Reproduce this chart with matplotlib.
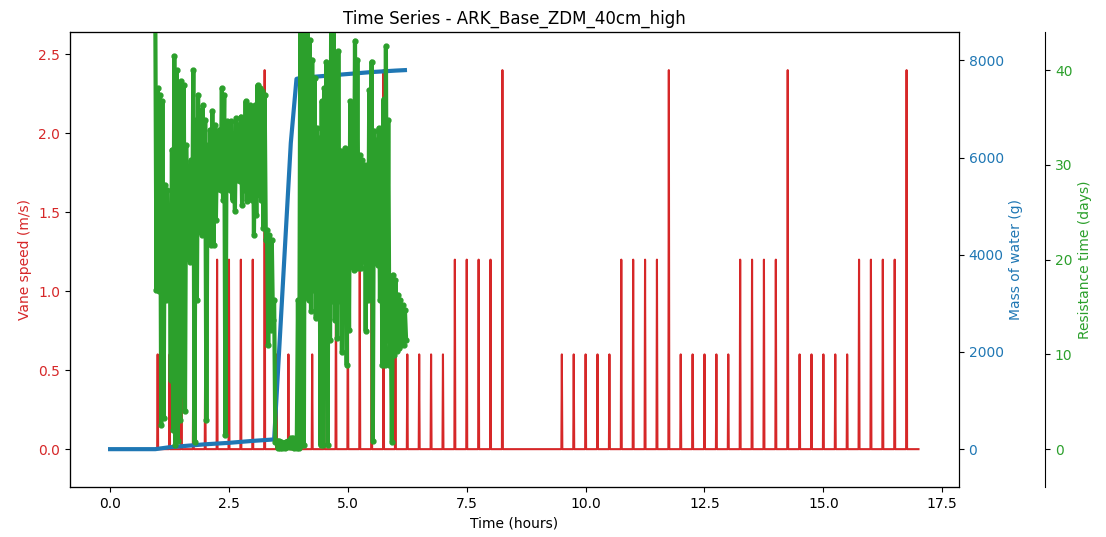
import numpy as np
import matplotlib
matplotlib.use("Agg")
import matplotlib.pyplot as plt

# vane speed spikes (hours, m/s)
spike_times = [1.0, 1.25, 1.5, 1.75, 2.0, 2.25, 2.5, 2.75, 3.0, 3.25,
               3.5, 3.75, 4.0, 4.25, 4.5, 4.75, 5.0, 5.25, 5.5, 5.75,
               6.0, 6.25, 6.5, 6.75, 7.0, 7.25, 7.5, 7.75, 8.0, 8.25,
               9.5, 9.75, 10.0, 10.25, 10.5, 10.75, 11.0, 11.25, 11.5, 11.75,
               12.0, 12.25, 12.5, 12.75, 13.0, 13.25, 13.5, 13.75, 14.0, 14.25,
               14.5, 14.75, 15.0, 15.25, 15.5, 15.75, 16.0, 16.25, 16.5, 16.75]
spike_speeds = [0.6, 0.6, 0.6, 0.6, 0.6, 1.2, 1.2, 1.2, 1.2, 2.4] * 6
red_end = 17.0

# mass of water (hours, g)
mass_t = [0, 0.5, 0.95, 1.25, 1.5, 2.0, 2.5, 3.0, 3.45, 3.8, 3.92, 4.0,
          4.5, 5.0, 5.5, 6.0, 6.2]
mass_g = [0, 0, 0, 40, 60, 100, 130, 170, 200, 6300, 7620, 7640,
          7680, 7720, 7760, 7790, 7800]

# resistance time (days): upper / lower swing of the noisy signal every 0.05 h
res_t0 = 0.95
res_hi = [47, 38.1, 37.4, 36.7, 27.9, 27.3, 25.4, 31.6, 41.5, 40.0,
          36.9, 38.8, 38.4, 32.1, 27.9, 30.5, 40.0, 34.7, 37.4, 35.7,
          36.3, 34.7, 32.1, 33.7, 35.7, 34.2, 32.5, 33.7, 38.1, 37.4,
          34.6, 34.2, 34.6, 32.1, 34.9, 34.2, 35.1, 34.7, 36.7, 36.0,
          36.3, 35.8, 36.3, 38.4, 38.1, 37.8, 37.4, 23.1, 22.6, 22.1,
          15.7, 0.9, 0.9, 0.8, 0.7, 0.8, 0.9, 1.2, 1.2, 0.9,
          15.7, 47, 47, 47, 47, 43.2, 41.1, 39.2, 33.9, 32.8,
          36.7, 38.1, 40.9, 38.9, 47, 47, 34.9, 42.0, 31.5, 30.5,
          31.8, 31.6, 36.7, 35.8, 43.1, 41.1, 31.0, 30.5, 30.0, 29.4,
          37.9, 40.9, 33.6, 32.6, 33.9, 31.6, 36.9, 42.5, 34.7, 15.6,
          18.4, 17.8, 16.3, 15.7, 15.2, 14.7]
res_lo = [16.8, 16.7, 2.5, 3.3, 15.7, 19.4, 7.3, 2.0, 0.4, 0.9,
          3.1, 5.7, 4.0, 22.6, 19.8, 21.0, 0.8, 15.7, 23.3, 22.6,
          23.1, 3.1, 24.2, 21.5, 21.5, 24.2, 27.5, 27.3, 26.3, 1.5,
          27.9, 27.3, 26.3, 25.1, 28.4, 28.3, 25.8, 27.3, 26.2, 26.8,
          26.3, 22.6, 24.7, 26.8, 26.3, 23.3, 22.1, 11.0, 12.6, 13.6,
          0.8, 0.1, 0.1, 0.1, 0.1, 0.2, 0.2, 0.2, 0.1, 0.1,
          0.1, 0.4, 0.4, 19.8, 15.7, 14.6, 16.8, 13.8, 15.7, 0.4,
          0.4, 12.6, 0.4, 11.5, 15.6, 13.6, 11.7, 15.6, 10.3, 15.7,
          8.9, 12.6, 19.8, 18.9, 19.1, 19.1, 19.1, 19.9, 12.5, 15.7,
          20.2, 0.9, 19.8, 19.4, 15.7, 8.9, 8.9, 11.5, 8.9, 0.8,
          9.9, 10.4, 10.7, 11.0, 11.0, 11.5]

# build the vane speed trace: zero baseline with one-sample spikes
eps = 0.01
red_x, red_y = [0.0], [0.0]
for t, v in zip(spike_times, spike_speeds):
    red_x += [t - eps, t, t + eps]
    red_y += [0.0, v, 0.0]
red_x.append(red_end)
red_y.append(0.0)

# interleave the swings of the resistance signal
n = len(res_hi)
res_x = res_t0 + np.arange(2 * n) * 0.025
res_y = np.column_stack([res_hi, res_lo]).ravel()

fig, ax = plt.subplots(figsize=(11.06, 5.37), dpi=100)
fig.subplots_adjust(left=0.063, right=0.867, bottom=0.093, top=0.940)

ax.plot(red_x, red_y, color='tab:red', linewidth=1.5)
ax.set_xlabel('Time (hours)')
ax.set_ylabel('Vane speed (m/s)', color='tab:red')
ax.tick_params(axis='y', labelcolor='tab:red')
vmax = max(spike_speeds)
ax.set_ylim(-0.1 * vmax, 1.1 * vmax)

ax2 = ax.twinx()
ax2.plot(mass_t, mass_g, color='tab:blue', linewidth=3)
ax2.set_ylabel('Mass of water (g)', color='tab:blue')
ax2.tick_params(axis='y', labelcolor='tab:blue')
mmax = max(mass_g)
ax2.set_ylim(-0.1 * mmax, 1.1 * mmax)

ax3 = ax.twinx()
ax3.spines['right'].set_position(('axes', 1.097))
ax3.plot(res_x, res_y, color='tab:green', linewidth=3,
         marker='o', markersize=3.5)
ax3.set_ylabel('Resistance time (days)', color='tab:green')
ax3.tick_params(axis='y', labelcolor='tab:green')
ax3.set_ylim(-4, 44)

ax.set_title('Time Series - ARK_Base_ZDM_40cm_high')
fig.savefig('out.png', dpi=100)
